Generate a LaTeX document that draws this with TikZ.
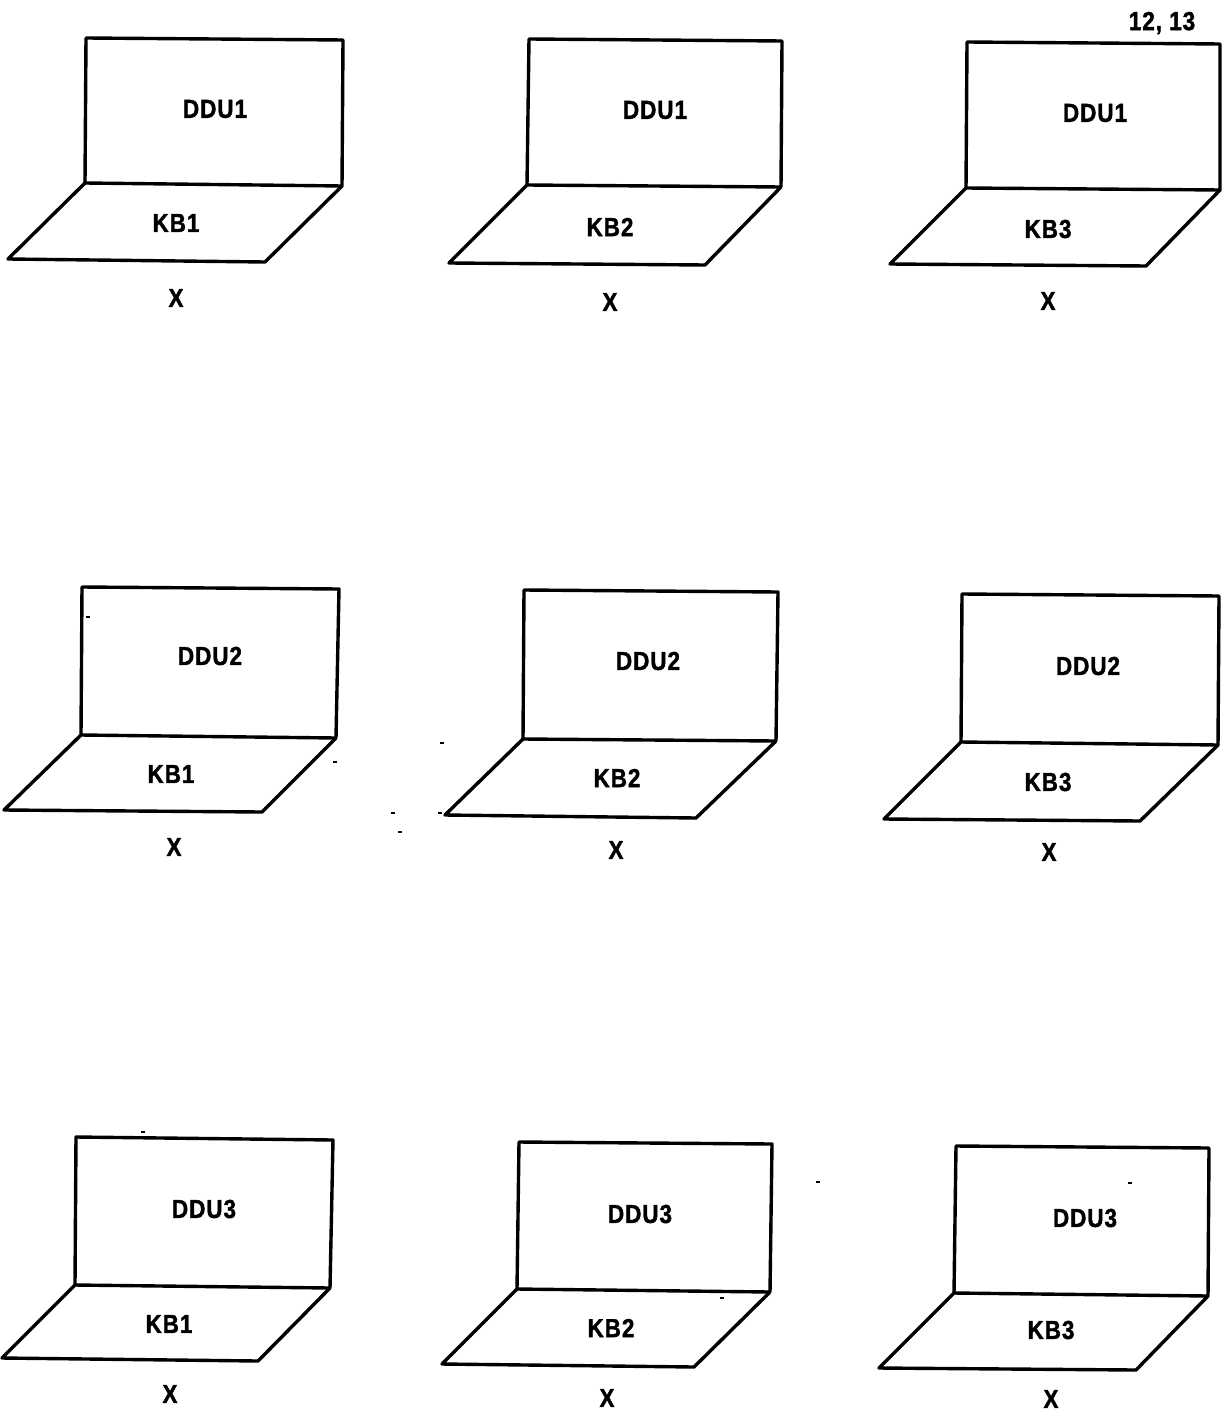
\documentclass[tikz,border=0pt]{standalone}
\usepackage{fontspec}
\setmainfont{Liberation Sans}[BoldFeatures={FakeStretch=0.86,LetterSpace=4,FakeBold=1.5}]
\usetikzlibrary{positioning}

\begin{document}
\begin{tikzpicture}[
      x=0.5pt,y=-0.5pt,
      font=\fontsize{13}{15}\selectfont\bfseries,
      part/.style={draw,line width=1.7pt,line join=round},
      lbl/.style={inner sep=0pt},
      speck/.style={line width=1pt}]
    \useasboundingbox (0,0) rectangle (1221,1412);
    % top row
    \draw[part] (86,38)--(343,40)--(342,186)--(85,183)--cycle;
    \draw[part] (85,183)--(8,259)--(265,262)--(342,186);
    \node[lbl] (ddua) at (215,109) {DDU1};
    \node[lbl] (kba) at (176,223) {KB1};
    \node[lbl] (xa) at (176,298) {X};
    \draw[part] (529,39)--(782,41)--(781,187)--(527,185)--cycle;
    \draw[part] (527,185)--(449,263)--(705,265)--(781,187);
    \node[lbl] (ddub) at (655,110) {DDU1};
    \node[lbl] (kbb) at (610,227) {KB2};
    \node[lbl] (xb) at (610,302) {X};
    \draw[part] (967,42)--(1220,44)--(1220,190)--(966,188)--cycle;
    \draw[part] (966,188)--(890,264)--(1146,266)--(1220,190);
    \node[lbl] (dduc) at (1095,113) {DDU1};
    \node[lbl] (kbc) at (1048,229) {KB3};
    \node[lbl] (xc) at (1048,301) {X};
    \node[lbl] (fig) at (1162,23) {12, 13};
    % middle row
    \draw[part] (82,587)--(339,589)--(336,738)--(81,735)--cycle;
    \draw[part] (81,735)--(4,810)--(262,812)--(336,738);
    \node[lbl] (ddud) at (210,656) {DDU2};
    \node[lbl] (kbd) at (171,774) {KB1};
    \node[lbl] (xd) at (174,847) {X};
    \draw[part] (524,590)--(778,592)--(776,741)--(523,739)--cycle;
    \draw[part] (523,739)--(445,815)--(696,818)--(776,741);
    \node[lbl] (ddue) at (648,661) {DDU2};
    \node[lbl] (kbe) at (617,778) {KB2};
    \node[lbl] (xe) at (616,850) {X};
    \draw[part] (962,594)--(1219,596)--(1218,745)--(961,742)--cycle;
    \draw[part] (961,742)--(884,819)--(1140,821)--(1218,745);
    \node[lbl] (dduf) at (1088,666) {DDU2};
    \node[lbl] (kbf) at (1048,782) {KB3};
    \node[lbl] (xf) at (1049,852) {X};
    % bottom row
    \draw[part] (76,1137)--(333,1140)--(330,1288)--(75,1285)--cycle;
    \draw[part] (75,1285)--(2,1358)--(258,1361)--(330,1288);
    \node[lbl] (ddug) at (204,1209) {DDU3};
    \node[lbl] (kbg) at (169,1324) {KB1};
    \node[lbl] (xg) at (170,1394) {X};
    \draw[part] (519,1142)--(772,1144)--(770,1292)--(517,1289)--cycle;
    \draw[part] (517,1289)--(442,1364)--(694,1367)--(770,1292);
    \node[lbl] (dduh) at (640,1214) {DDU3};
    \node[lbl] (kbh) at (611,1328) {KB2};
    \node[lbl] (xh) at (607,1398) {X};
    \draw[part] (956,1146)--(1209,1148)--(1208,1296)--(954,1293)--cycle;
    \draw[part] (954,1293)--(879,1368)--(1136,1370)--(1208,1296);
    \node[lbl] (ddui) at (1085,1218) {DDU3};
    \node[lbl] (kbi) at (1051,1330) {KB3};
    \node[lbl] (xi) at (1051,1399) {X};
    % specks
    \foreach \px/\py in {143/1132,818/1182,1130/1183,442/743,335/762,393/813,400/832,440/813,88/617,722/1298}
      \draw[speck] (\px-2,\py)--(\px+2,\py);
  \end{tikzpicture}
\end{document}
